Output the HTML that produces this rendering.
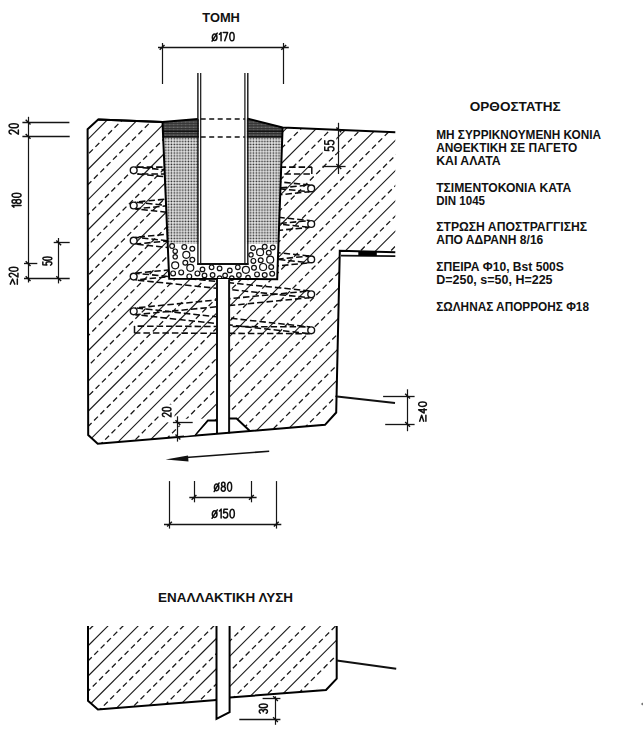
<!DOCTYPE html>
<html><head><meta charset="utf-8"><style>
html,body{margin:0;padding:0;background:#fff;}
svg{display:block;}
</style></head><body>
<svg width="643" height="730" viewBox="0 0 643 730">
<rect width="643" height="730" fill="#fff"/>
<defs>
<clipPath id="cl"><polygon points="87.6,129.2 98.2,119.6 162.5,122.0 169.2,279.0 217.0,279.0 217.0,420.5 208.0,420.5 194.5,435.5 97.7,443.8 88.2,435.0"/></clipPath>
<clipPath id="cr"><polygon points="282.6,127.5 395.3,132.2 395.3,252.3 339.8,250.7 336.2,408.0 320.5,425.3 249.9,431.0 236.6,418.6 229.0,418.6 229.0,279.2 277.2,279.2"/></clipPath>
<clipPath id="ll"><polygon points="88.0,626.0 216.5,626.0 216.5,700.0 97.9,709.4 88.0,700.7"/></clipPath>
<clipPath id="lr"><polygon points="229.6,626.0 336.7,626.0 336.7,665.0 315.0,691.0 229.6,697.5"/></clipPath>
<pattern id="dots" x="0.3" y="0.6" width="2.83" height="2.85" patternUnits="userSpaceOnUse"><rect x="0.5" y="0.5" width="1.75" height="1.75" fill="#2a2a2a"/></pattern>
<pattern id="grout" x="0" y="0.5" width="4" height="2.6" patternUnits="userSpaceOnUse"><rect width="4" height="2.6" fill="#555"/><rect y="0" width="4" height="1.2" fill="#2e2e2e"/><rect x="1" y="1.6" width="1.2" height="0.8" fill="#777"/></pattern>
</defs>
<g clip-path="url(#cl)">
<line x1="-279.3" y1="446.0" x2="51.7" y2="115.0" stroke="#1a1a1a" stroke-width="1.1" stroke-linecap="butt"/>
<line x1="-264.2" y1="446.0" x2="66.8" y2="115.0" stroke="#1a1a1a" stroke-width="1.3" stroke-dasharray="5.5 3.5" stroke-linecap="butt"/>
<line x1="-249.1" y1="446.0" x2="81.9" y2="115.0" stroke="#1a1a1a" stroke-width="1.1" stroke-linecap="butt"/>
<line x1="-233.9" y1="446.0" x2="97.1" y2="115.0" stroke="#1a1a1a" stroke-width="1.3" stroke-dasharray="5.5 3.5" stroke-linecap="butt"/>
<line x1="-218.8" y1="446.0" x2="112.2" y2="115.0" stroke="#1a1a1a" stroke-width="1.1" stroke-linecap="butt"/>
<line x1="-203.7" y1="446.0" x2="127.3" y2="115.0" stroke="#1a1a1a" stroke-width="1.3" stroke-dasharray="5.5 3.5" stroke-linecap="butt"/>
<line x1="-188.6" y1="446.0" x2="142.4" y2="115.0" stroke="#1a1a1a" stroke-width="1.1" stroke-linecap="butt"/>
<line x1="-173.4" y1="446.0" x2="157.6" y2="115.0" stroke="#1a1a1a" stroke-width="1.3" stroke-dasharray="5.5 3.5" stroke-linecap="butt"/>
<line x1="-158.3" y1="446.0" x2="172.7" y2="115.0" stroke="#1a1a1a" stroke-width="1.1" stroke-linecap="butt"/>
<line x1="-143.2" y1="446.0" x2="187.8" y2="115.0" stroke="#1a1a1a" stroke-width="1.3" stroke-dasharray="5.5 3.5" stroke-linecap="butt"/>
<line x1="-128.1" y1="446.0" x2="202.9" y2="115.0" stroke="#1a1a1a" stroke-width="1.1" stroke-linecap="butt"/>
<line x1="-112.9" y1="446.0" x2="218.1" y2="115.0" stroke="#1a1a1a" stroke-width="1.3" stroke-dasharray="5.5 3.5" stroke-linecap="butt"/>
<line x1="-97.8" y1="446.0" x2="233.2" y2="115.0" stroke="#1a1a1a" stroke-width="1.1" stroke-linecap="butt"/>
<line x1="-82.7" y1="446.0" x2="248.3" y2="115.0" stroke="#1a1a1a" stroke-width="1.3" stroke-dasharray="5.5 3.5" stroke-linecap="butt"/>
<line x1="-67.6" y1="446.0" x2="263.4" y2="115.0" stroke="#1a1a1a" stroke-width="1.1" stroke-linecap="butt"/>
<line x1="-52.4" y1="446.0" x2="278.6" y2="115.0" stroke="#1a1a1a" stroke-width="1.3" stroke-dasharray="5.5 3.5" stroke-linecap="butt"/>
<line x1="-37.3" y1="446.0" x2="293.7" y2="115.0" stroke="#1a1a1a" stroke-width="1.1" stroke-linecap="butt"/>
<line x1="-22.2" y1="446.0" x2="308.8" y2="115.0" stroke="#1a1a1a" stroke-width="1.3" stroke-dasharray="5.5 3.5" stroke-linecap="butt"/>
<line x1="-7.1" y1="446.0" x2="323.9" y2="115.0" stroke="#1a1a1a" stroke-width="1.1" stroke-linecap="butt"/>
<line x1="8.1" y1="446.0" x2="339.1" y2="115.0" stroke="#1a1a1a" stroke-width="1.3" stroke-dasharray="5.5 3.5" stroke-linecap="butt"/>
<line x1="23.2" y1="446.0" x2="354.2" y2="115.0" stroke="#1a1a1a" stroke-width="1.1" stroke-linecap="butt"/>
<line x1="38.3" y1="446.0" x2="369.3" y2="115.0" stroke="#1a1a1a" stroke-width="1.3" stroke-dasharray="5.5 3.5" stroke-linecap="butt"/>
<line x1="53.4" y1="446.0" x2="384.4" y2="115.0" stroke="#1a1a1a" stroke-width="1.1" stroke-linecap="butt"/>
<line x1="68.6" y1="446.0" x2="399.6" y2="115.0" stroke="#1a1a1a" stroke-width="1.3" stroke-dasharray="5.5 3.5" stroke-linecap="butt"/>
<line x1="83.7" y1="446.0" x2="414.7" y2="115.0" stroke="#1a1a1a" stroke-width="1.1" stroke-linecap="butt"/>
<line x1="98.8" y1="446.0" x2="429.8" y2="115.0" stroke="#1a1a1a" stroke-width="1.3" stroke-dasharray="5.5 3.5" stroke-linecap="butt"/>
<line x1="114.0" y1="446.0" x2="445.0" y2="115.0" stroke="#1a1a1a" stroke-width="1.1" stroke-linecap="butt"/>
<line x1="129.1" y1="446.0" x2="460.1" y2="115.0" stroke="#1a1a1a" stroke-width="1.3" stroke-dasharray="5.5 3.5" stroke-linecap="butt"/>
<line x1="144.2" y1="446.0" x2="475.2" y2="115.0" stroke="#1a1a1a" stroke-width="1.1" stroke-linecap="butt"/>
<line x1="159.3" y1="446.0" x2="490.3" y2="115.0" stroke="#1a1a1a" stroke-width="1.3" stroke-dasharray="5.5 3.5" stroke-linecap="butt"/>
<line x1="174.5" y1="446.0" x2="505.5" y2="115.0" stroke="#1a1a1a" stroke-width="1.1" stroke-linecap="butt"/>
<line x1="189.6" y1="446.0" x2="520.6" y2="115.0" stroke="#1a1a1a" stroke-width="1.3" stroke-dasharray="5.5 3.5" stroke-linecap="butt"/>
<line x1="204.7" y1="446.0" x2="535.7" y2="115.0" stroke="#1a1a1a" stroke-width="1.1" stroke-linecap="butt"/>
<line x1="219.8" y1="446.0" x2="550.8" y2="115.0" stroke="#1a1a1a" stroke-width="1.3" stroke-dasharray="5.5 3.5" stroke-linecap="butt"/>
<line x1="235.0" y1="446.0" x2="566.0" y2="115.0" stroke="#1a1a1a" stroke-width="1.1" stroke-linecap="butt"/>
<line x1="250.1" y1="446.0" x2="581.1" y2="115.0" stroke="#1a1a1a" stroke-width="1.3" stroke-dasharray="5.5 3.5" stroke-linecap="butt"/>
<line x1="265.2" y1="446.0" x2="596.2" y2="115.0" stroke="#1a1a1a" stroke-width="1.1" stroke-linecap="butt"/>
<line x1="280.3" y1="446.0" x2="611.3" y2="115.0" stroke="#1a1a1a" stroke-width="1.3" stroke-dasharray="5.5 3.5" stroke-linecap="butt"/>
</g>
<g clip-path="url(#cr)">
<line x1="-141.3" y1="435.0" x2="168.7" y2="125.0" stroke="#1a1a1a" stroke-width="1.1" stroke-linecap="butt"/>
<line x1="-126.2" y1="435.0" x2="183.8" y2="125.0" stroke="#1a1a1a" stroke-width="1.3" stroke-dasharray="5.5 3.5" stroke-linecap="butt"/>
<line x1="-111.1" y1="435.0" x2="198.9" y2="125.0" stroke="#1a1a1a" stroke-width="1.1" stroke-linecap="butt"/>
<line x1="-95.9" y1="435.0" x2="214.1" y2="125.0" stroke="#1a1a1a" stroke-width="1.3" stroke-dasharray="5.5 3.5" stroke-linecap="butt"/>
<line x1="-80.8" y1="435.0" x2="229.2" y2="125.0" stroke="#1a1a1a" stroke-width="1.1" stroke-linecap="butt"/>
<line x1="-65.7" y1="435.0" x2="244.3" y2="125.0" stroke="#1a1a1a" stroke-width="1.3" stroke-dasharray="5.5 3.5" stroke-linecap="butt"/>
<line x1="-50.6" y1="435.0" x2="259.4" y2="125.0" stroke="#1a1a1a" stroke-width="1.1" stroke-linecap="butt"/>
<line x1="-35.4" y1="435.0" x2="274.6" y2="125.0" stroke="#1a1a1a" stroke-width="1.3" stroke-dasharray="5.5 3.5" stroke-linecap="butt"/>
<line x1="-20.3" y1="435.0" x2="289.7" y2="125.0" stroke="#1a1a1a" stroke-width="1.1" stroke-linecap="butt"/>
<line x1="-5.2" y1="435.0" x2="304.8" y2="125.0" stroke="#1a1a1a" stroke-width="1.3" stroke-dasharray="5.5 3.5" stroke-linecap="butt"/>
<line x1="9.9" y1="435.0" x2="319.9" y2="125.0" stroke="#1a1a1a" stroke-width="1.1" stroke-linecap="butt"/>
<line x1="25.1" y1="435.0" x2="335.1" y2="125.0" stroke="#1a1a1a" stroke-width="1.3" stroke-dasharray="5.5 3.5" stroke-linecap="butt"/>
<line x1="40.2" y1="435.0" x2="350.2" y2="125.0" stroke="#1a1a1a" stroke-width="1.1" stroke-linecap="butt"/>
<line x1="55.3" y1="435.0" x2="365.3" y2="125.0" stroke="#1a1a1a" stroke-width="1.3" stroke-dasharray="5.5 3.5" stroke-linecap="butt"/>
<line x1="70.4" y1="435.0" x2="380.4" y2="125.0" stroke="#1a1a1a" stroke-width="1.1" stroke-linecap="butt"/>
<line x1="85.6" y1="435.0" x2="395.6" y2="125.0" stroke="#1a1a1a" stroke-width="1.3" stroke-dasharray="5.5 3.5" stroke-linecap="butt"/>
<line x1="100.7" y1="435.0" x2="410.7" y2="125.0" stroke="#1a1a1a" stroke-width="1.1" stroke-linecap="butt"/>
<line x1="115.8" y1="435.0" x2="425.8" y2="125.0" stroke="#1a1a1a" stroke-width="1.3" stroke-dasharray="5.5 3.5" stroke-linecap="butt"/>
<line x1="131.0" y1="435.0" x2="441.0" y2="125.0" stroke="#1a1a1a" stroke-width="1.1" stroke-linecap="butt"/>
<line x1="146.1" y1="435.0" x2="456.1" y2="125.0" stroke="#1a1a1a" stroke-width="1.3" stroke-dasharray="5.5 3.5" stroke-linecap="butt"/>
<line x1="161.2" y1="435.0" x2="471.2" y2="125.0" stroke="#1a1a1a" stroke-width="1.1" stroke-linecap="butt"/>
<line x1="176.3" y1="435.0" x2="486.3" y2="125.0" stroke="#1a1a1a" stroke-width="1.3" stroke-dasharray="5.5 3.5" stroke-linecap="butt"/>
<line x1="191.5" y1="435.0" x2="501.5" y2="125.0" stroke="#1a1a1a" stroke-width="1.1" stroke-linecap="butt"/>
<line x1="206.6" y1="435.0" x2="516.6" y2="125.0" stroke="#1a1a1a" stroke-width="1.3" stroke-dasharray="5.5 3.5" stroke-linecap="butt"/>
<line x1="221.7" y1="435.0" x2="531.7" y2="125.0" stroke="#1a1a1a" stroke-width="1.1" stroke-linecap="butt"/>
<line x1="236.8" y1="435.0" x2="546.8" y2="125.0" stroke="#1a1a1a" stroke-width="1.3" stroke-dasharray="5.5 3.5" stroke-linecap="butt"/>
<line x1="252.0" y1="435.0" x2="562.0" y2="125.0" stroke="#1a1a1a" stroke-width="1.1" stroke-linecap="butt"/>
<line x1="267.1" y1="435.0" x2="577.1" y2="125.0" stroke="#1a1a1a" stroke-width="1.3" stroke-dasharray="5.5 3.5" stroke-linecap="butt"/>
<line x1="282.2" y1="435.0" x2="592.2" y2="125.0" stroke="#1a1a1a" stroke-width="1.1" stroke-linecap="butt"/>
<line x1="297.3" y1="435.0" x2="607.3" y2="125.0" stroke="#1a1a1a" stroke-width="1.3" stroke-dasharray="5.5 3.5" stroke-linecap="butt"/>
<line x1="312.5" y1="435.0" x2="622.5" y2="125.0" stroke="#1a1a1a" stroke-width="1.1" stroke-linecap="butt"/>
<line x1="327.6" y1="435.0" x2="637.6" y2="125.0" stroke="#1a1a1a" stroke-width="1.3" stroke-dasharray="5.5 3.5" stroke-linecap="butt"/>
<line x1="342.7" y1="435.0" x2="652.7" y2="125.0" stroke="#1a1a1a" stroke-width="1.1" stroke-linecap="butt"/>
<line x1="357.8" y1="435.0" x2="667.8" y2="125.0" stroke="#1a1a1a" stroke-width="1.3" stroke-dasharray="5.5 3.5" stroke-linecap="butt"/>
<line x1="373.0" y1="435.0" x2="683.0" y2="125.0" stroke="#1a1a1a" stroke-width="1.1" stroke-linecap="butt"/>
<line x1="388.1" y1="435.0" x2="698.1" y2="125.0" stroke="#1a1a1a" stroke-width="1.3" stroke-dasharray="5.5 3.5" stroke-linecap="butt"/>
<line x1="403.2" y1="435.0" x2="713.2" y2="125.0" stroke="#1a1a1a" stroke-width="1.1" stroke-linecap="butt"/>
<line x1="418.3" y1="435.0" x2="728.3" y2="125.0" stroke="#1a1a1a" stroke-width="1.3" stroke-dasharray="5.5 3.5" stroke-linecap="butt"/>
<line x1="433.5" y1="435.0" x2="743.5" y2="125.0" stroke="#1a1a1a" stroke-width="1.1" stroke-linecap="butt"/>
<line x1="448.6" y1="435.0" x2="758.6" y2="125.0" stroke="#1a1a1a" stroke-width="1.3" stroke-dasharray="5.5 3.5" stroke-linecap="butt"/>
</g>
<g clip-path="url(#ll)">
<line x1="-38.6" y1="712.0" x2="53.4" y2="620.0" stroke="#1a1a1a" stroke-width="1.1" stroke-linecap="butt"/>
<line x1="-23.5" y1="712.0" x2="68.5" y2="620.0" stroke="#1a1a1a" stroke-width="1.3" stroke-dasharray="5.5 3.5" stroke-linecap="butt"/>
<line x1="-8.4" y1="712.0" x2="83.6" y2="620.0" stroke="#1a1a1a" stroke-width="1.1" stroke-linecap="butt"/>
<line x1="6.8" y1="712.0" x2="98.8" y2="620.0" stroke="#1a1a1a" stroke-width="1.3" stroke-dasharray="5.5 3.5" stroke-linecap="butt"/>
<line x1="21.9" y1="712.0" x2="113.9" y2="620.0" stroke="#1a1a1a" stroke-width="1.1" stroke-linecap="butt"/>
<line x1="37.0" y1="712.0" x2="129.0" y2="620.0" stroke="#1a1a1a" stroke-width="1.3" stroke-dasharray="5.5 3.5" stroke-linecap="butt"/>
<line x1="52.1" y1="712.0" x2="144.1" y2="620.0" stroke="#1a1a1a" stroke-width="1.1" stroke-linecap="butt"/>
<line x1="67.3" y1="712.0" x2="159.3" y2="620.0" stroke="#1a1a1a" stroke-width="1.3" stroke-dasharray="5.5 3.5" stroke-linecap="butt"/>
<line x1="82.4" y1="712.0" x2="174.4" y2="620.0" stroke="#1a1a1a" stroke-width="1.1" stroke-linecap="butt"/>
<line x1="97.5" y1="712.0" x2="189.5" y2="620.0" stroke="#1a1a1a" stroke-width="1.3" stroke-dasharray="5.5 3.5" stroke-linecap="butt"/>
<line x1="112.6" y1="712.0" x2="204.6" y2="620.0" stroke="#1a1a1a" stroke-width="1.1" stroke-linecap="butt"/>
<line x1="127.8" y1="712.0" x2="219.8" y2="620.0" stroke="#1a1a1a" stroke-width="1.3" stroke-dasharray="5.5 3.5" stroke-linecap="butt"/>
<line x1="142.9" y1="712.0" x2="234.9" y2="620.0" stroke="#1a1a1a" stroke-width="1.1" stroke-linecap="butt"/>
<line x1="158.0" y1="712.0" x2="250.0" y2="620.0" stroke="#1a1a1a" stroke-width="1.3" stroke-dasharray="5.5 3.5" stroke-linecap="butt"/>
<line x1="173.1" y1="712.0" x2="265.1" y2="620.0" stroke="#1a1a1a" stroke-width="1.1" stroke-linecap="butt"/>
<line x1="188.3" y1="712.0" x2="280.3" y2="620.0" stroke="#1a1a1a" stroke-width="1.3" stroke-dasharray="5.5 3.5" stroke-linecap="butt"/>
<line x1="203.4" y1="712.0" x2="295.4" y2="620.0" stroke="#1a1a1a" stroke-width="1.1" stroke-linecap="butt"/>
<line x1="218.5" y1="712.0" x2="310.5" y2="620.0" stroke="#1a1a1a" stroke-width="1.3" stroke-dasharray="5.5 3.5" stroke-linecap="butt"/>
<line x1="233.6" y1="712.0" x2="325.6" y2="620.0" stroke="#1a1a1a" stroke-width="1.1" stroke-linecap="butt"/>
<line x1="248.8" y1="712.0" x2="340.8" y2="620.0" stroke="#1a1a1a" stroke-width="1.3" stroke-dasharray="5.5 3.5" stroke-linecap="butt"/>
<line x1="263.9" y1="712.0" x2="355.9" y2="620.0" stroke="#1a1a1a" stroke-width="1.1" stroke-linecap="butt"/>
<line x1="279.0" y1="712.0" x2="371.0" y2="620.0" stroke="#1a1a1a" stroke-width="1.3" stroke-dasharray="5.5 3.5" stroke-linecap="butt"/>
</g>
<g clip-path="url(#lr)">
<line x1="95.2" y1="700.0" x2="175.2" y2="620.0" stroke="#1a1a1a" stroke-width="1.1" stroke-linecap="butt"/>
<line x1="110.3" y1="700.0" x2="190.3" y2="620.0" stroke="#1a1a1a" stroke-width="1.3" stroke-dasharray="5.5 3.5" stroke-linecap="butt"/>
<line x1="125.5" y1="700.0" x2="205.5" y2="620.0" stroke="#1a1a1a" stroke-width="1.1" stroke-linecap="butt"/>
<line x1="140.6" y1="700.0" x2="220.6" y2="620.0" stroke="#1a1a1a" stroke-width="1.3" stroke-dasharray="5.5 3.5" stroke-linecap="butt"/>
<line x1="155.7" y1="700.0" x2="235.7" y2="620.0" stroke="#1a1a1a" stroke-width="1.1" stroke-linecap="butt"/>
<line x1="170.8" y1="700.0" x2="250.8" y2="620.0" stroke="#1a1a1a" stroke-width="1.3" stroke-dasharray="5.5 3.5" stroke-linecap="butt"/>
<line x1="186.0" y1="700.0" x2="266.0" y2="620.0" stroke="#1a1a1a" stroke-width="1.1" stroke-linecap="butt"/>
<line x1="201.1" y1="700.0" x2="281.1" y2="620.0" stroke="#1a1a1a" stroke-width="1.3" stroke-dasharray="5.5 3.5" stroke-linecap="butt"/>
<line x1="216.2" y1="700.0" x2="296.2" y2="620.0" stroke="#1a1a1a" stroke-width="1.1" stroke-linecap="butt"/>
<line x1="231.3" y1="700.0" x2="311.3" y2="620.0" stroke="#1a1a1a" stroke-width="1.3" stroke-dasharray="5.5 3.5" stroke-linecap="butt"/>
<line x1="246.5" y1="700.0" x2="326.5" y2="620.0" stroke="#1a1a1a" stroke-width="1.1" stroke-linecap="butt"/>
<line x1="261.6" y1="700.0" x2="341.6" y2="620.0" stroke="#1a1a1a" stroke-width="1.3" stroke-dasharray="5.5 3.5" stroke-linecap="butt"/>
<line x1="276.7" y1="700.0" x2="356.7" y2="620.0" stroke="#1a1a1a" stroke-width="1.1" stroke-linecap="butt"/>
<line x1="291.8" y1="700.0" x2="371.8" y2="620.0" stroke="#1a1a1a" stroke-width="1.3" stroke-dasharray="5.5 3.5" stroke-linecap="butt"/>
<line x1="307.0" y1="700.0" x2="387.0" y2="620.0" stroke="#1a1a1a" stroke-width="1.1" stroke-linecap="butt"/>
<line x1="322.1" y1="700.0" x2="402.1" y2="620.0" stroke="#1a1a1a" stroke-width="1.3" stroke-dasharray="5.5 3.5" stroke-linecap="butt"/>
<line x1="337.2" y1="700.0" x2="417.2" y2="620.0" stroke="#1a1a1a" stroke-width="1.1" stroke-linecap="butt"/>
<line x1="352.3" y1="700.0" x2="432.3" y2="620.0" stroke="#1a1a1a" stroke-width="1.3" stroke-dasharray="5.5 3.5" stroke-linecap="butt"/>
<line x1="367.5" y1="700.0" x2="447.5" y2="620.0" stroke="#1a1a1a" stroke-width="1.1" stroke-linecap="butt"/>
<line x1="382.6" y1="700.0" x2="462.6" y2="620.0" stroke="#1a1a1a" stroke-width="1.3" stroke-dasharray="5.5 3.5" stroke-linecap="butt"/>
<line x1="397.7" y1="700.0" x2="477.7" y2="620.0" stroke="#1a1a1a" stroke-width="1.1" stroke-linecap="butt"/>
<line x1="412.8" y1="700.0" x2="492.8" y2="620.0" stroke="#1a1a1a" stroke-width="1.3" stroke-dasharray="5.5 3.5" stroke-linecap="butt"/>
</g>
<line x1="137.10" y1="167.10" x2="311.80" y2="167.10" stroke="#0a0a0a" stroke-width="1.55" stroke-dasharray="6.5 3" stroke-dashoffset="0.00"/>
<line x1="137.10" y1="173.90" x2="311.80" y2="173.90" stroke="#0a0a0a" stroke-width="1.55" stroke-dasharray="6.5 3" stroke-dashoffset="4.70"/>
<line x1="311.8" y1="167.1" x2="311.8" y2="174.0" stroke="#111" stroke-width="1.5" stroke-linecap="butt"/>
<line x1="135.40" y1="166.90" x2="309.50" y2="185.00" stroke="#0a0a0a" stroke-width="1.55" stroke-dasharray="6.5 3" stroke-dashoffset="2.30"/>
<line x1="135.40" y1="173.70" x2="309.50" y2="191.80" stroke="#0a0a0a" stroke-width="1.55" stroke-dasharray="6.5 3" stroke-dashoffset="7.10"/>
<line x1="135.40" y1="202.10" x2="309.50" y2="185.00" stroke="#0a0a0a" stroke-width="1.55" stroke-dasharray="6.5 3" stroke-dashoffset="5.90"/>
<line x1="135.40" y1="208.90" x2="309.50" y2="191.80" stroke="#0a0a0a" stroke-width="1.55" stroke-dasharray="6.5 3" stroke-dashoffset="1.20"/>
<line x1="135.40" y1="202.10" x2="309.50" y2="220.60" stroke="#0a0a0a" stroke-width="1.55" stroke-dasharray="6.5 3" stroke-dashoffset="8.30"/>
<line x1="135.40" y1="208.90" x2="309.50" y2="227.40" stroke="#0a0a0a" stroke-width="1.55" stroke-dasharray="6.5 3" stroke-dashoffset="3.50"/>
<line x1="135.40" y1="237.30" x2="309.50" y2="220.60" stroke="#0a0a0a" stroke-width="1.55" stroke-dasharray="6.5 3" stroke-dashoffset="6.40"/>
<line x1="135.40" y1="244.10" x2="309.50" y2="227.40" stroke="#0a0a0a" stroke-width="1.55" stroke-dasharray="6.5 3" stroke-dashoffset="0.60"/>
<line x1="135.40" y1="237.30" x2="309.50" y2="256.00" stroke="#0a0a0a" stroke-width="1.55" stroke-dasharray="6.5 3" stroke-dashoffset="2.90"/>
<line x1="135.40" y1="244.10" x2="309.50" y2="262.80" stroke="#0a0a0a" stroke-width="1.55" stroke-dasharray="6.5 3" stroke-dashoffset="7.70"/>
<line x1="135.40" y1="273.20" x2="309.50" y2="256.00" stroke="#0a0a0a" stroke-width="1.55" stroke-dasharray="6.5 3" stroke-dashoffset="0.00"/>
<line x1="135.40" y1="280.00" x2="309.50" y2="262.80" stroke="#0a0a0a" stroke-width="1.55" stroke-dasharray="6.5 3" stroke-dashoffset="4.70"/>
<line x1="135.40" y1="273.20" x2="309.50" y2="290.90" stroke="#0a0a0a" stroke-width="1.55" stroke-dasharray="6.5 3" stroke-dashoffset="2.30"/>
<line x1="135.40" y1="280.00" x2="309.50" y2="297.70" stroke="#0a0a0a" stroke-width="1.55" stroke-dasharray="6.5 3" stroke-dashoffset="7.10"/>
<line x1="135.40" y1="307.90" x2="309.50" y2="290.90" stroke="#0a0a0a" stroke-width="1.55" stroke-dasharray="6.5 3" stroke-dashoffset="5.90"/>
<line x1="135.40" y1="314.70" x2="309.50" y2="297.70" stroke="#0a0a0a" stroke-width="1.55" stroke-dasharray="6.5 3" stroke-dashoffset="1.20"/>
<line x1="135.40" y1="307.90" x2="309.50" y2="326.90" stroke="#0a0a0a" stroke-width="1.55" stroke-dasharray="6.5 3" stroke-dashoffset="8.30"/>
<line x1="135.40" y1="314.70" x2="309.50" y2="333.70" stroke="#0a0a0a" stroke-width="1.55" stroke-dasharray="6.5 3" stroke-dashoffset="3.50"/>
<line x1="134.50" y1="326.10" x2="310.18" y2="326.90" stroke="#0a0a0a" stroke-width="1.55" stroke-dasharray="6.5 3" stroke-dashoffset="6.40"/>
<line x1="134.50" y1="332.90" x2="310.18" y2="333.70" stroke="#0a0a0a" stroke-width="1.55" stroke-dasharray="6.5 3" stroke-dashoffset="0.60"/>
<line x1="134.5" y1="325.9" x2="134.5" y2="333.2" stroke="#111" stroke-width="1.5" stroke-linecap="butt"/>
<circle cx="133.7" cy="170.3" r="3.4" fill="#fff" stroke="#111" stroke-width="1.4"/>
<circle cx="133.7" cy="205.5" r="3.4" fill="#fff" stroke="#111" stroke-width="1.4"/>
<circle cx="133.7" cy="240.7" r="3.4" fill="#fff" stroke="#111" stroke-width="1.4"/>
<circle cx="133.7" cy="276.6" r="3.4" fill="#fff" stroke="#111" stroke-width="1.4"/>
<circle cx="133.7" cy="311.3" r="3.4" fill="#fff" stroke="#111" stroke-width="1.4"/>
<circle cx="311.2" cy="188.4" r="3.4" fill="#fff" stroke="#111" stroke-width="1.4"/>
<circle cx="311.2" cy="224.0" r="3.4" fill="#fff" stroke="#111" stroke-width="1.4"/>
<circle cx="311.2" cy="259.4" r="3.4" fill="#fff" stroke="#111" stroke-width="1.4"/>
<circle cx="311.2" cy="294.3" r="3.4" fill="#fff" stroke="#111" stroke-width="1.4"/>
<circle cx="311.2" cy="330.3" r="3.4" fill="#fff" stroke="#111" stroke-width="1.4"/>
<polygon points="162.5,122.0 197.9,119.0 247.8,118.6 282.6,127.5 277.2,279.2 169.2,278.8" fill="#fff"/>
<clipPath id="pk"><polygon points="162.5,122.0 197.9,119.0 247.8,118.6 282.6,127.5 277.2,279.2 169.2,278.8"/></clipPath>
<g clip-path="url(#pk)">
<rect x="160" y="137" width="125" height="106.7" fill="url(#dots)"/>
<rect x="160" y="110" width="125" height="27" fill="url(#grout)"/>
</g>
<line x1="162.5" y1="131.2" x2="282.0" y2="131.2" stroke="#111" stroke-width="1.4" stroke-linecap="butt"/>
<line x1="162.5" y1="136.9" x2="282.6" y2="136.9" stroke="#111" stroke-width="1.6" stroke-linecap="butt"/>
<circle cx="172.1" cy="246.1" r="2.4" fill="none" stroke="#111" stroke-width="1.2"/>
<circle cx="184.3" cy="247.1" r="2.4" fill="none" stroke="#111" stroke-width="1.2"/>
<circle cx="192.3" cy="248.7" r="2.4" fill="none" stroke="#111" stroke-width="1.2"/>
<circle cx="175.2" cy="251.2" r="2.2" fill="none" stroke="#111" stroke-width="1.2"/>
<circle cx="186.3" cy="254.8" r="3.5" fill="none" stroke="#111" stroke-width="1.2"/>
<circle cx="175.2" cy="256.8" r="2.2" fill="none" stroke="#111" stroke-width="1.2"/>
<circle cx="192.3" cy="259.7" r="2.4" fill="none" stroke="#111" stroke-width="1.2"/>
<circle cx="185.3" cy="262.7" r="2.4" fill="none" stroke="#111" stroke-width="1.2"/>
<circle cx="175.2" cy="265.3" r="3.5" fill="none" stroke="#111" stroke-width="1.2"/>
<circle cx="190.3" cy="267.8" r="3.5" fill="none" stroke="#111" stroke-width="1.2"/>
<circle cx="173.1" cy="273.4" r="2.4" fill="none" stroke="#111" stroke-width="1.2"/>
<circle cx="181.2" cy="272.4" r="2.4" fill="none" stroke="#111" stroke-width="1.2"/>
<circle cx="189.3" cy="276.4" r="2.4" fill="none" stroke="#111" stroke-width="1.2"/>
<circle cx="197.4" cy="273.4" r="2.4" fill="none" stroke="#111" stroke-width="1.2"/>
<circle cx="202.5" cy="269.4" r="2.3" fill="none" stroke="#111" stroke-width="1.2"/>
<circle cx="204.5" cy="275.4" r="2.3" fill="none" stroke="#111" stroke-width="1.2"/>
<circle cx="211.6" cy="267.3" r="2.3" fill="none" stroke="#111" stroke-width="1.2"/>
<circle cx="212.6" cy="275" r="2.3" fill="none" stroke="#111" stroke-width="1.2"/>
<circle cx="219.6" cy="268.4" r="2.3" fill="none" stroke="#111" stroke-width="1.2"/>
<circle cx="219.6" cy="278.1" r="2.2" fill="none" stroke="#111" stroke-width="1.2"/>
<circle cx="225.1" cy="275.4" r="2.3" fill="none" stroke="#111" stroke-width="1.2"/>
<circle cx="229.8" cy="270.4" r="2.3" fill="none" stroke="#111" stroke-width="1.2"/>
<circle cx="231.8" cy="278.1" r="2.2" fill="none" stroke="#111" stroke-width="1.2"/>
<circle cx="237.8" cy="267.3" r="2.3" fill="none" stroke="#111" stroke-width="1.2"/>
<circle cx="238.9" cy="275" r="2.3" fill="none" stroke="#111" stroke-width="1.2"/>
<circle cx="245.9" cy="269.8" r="3.5" fill="none" stroke="#111" stroke-width="1.2"/>
<circle cx="248" cy="277.5" r="2.2" fill="none" stroke="#111" stroke-width="1.2"/>
<circle cx="253" cy="248.1" r="2.4" fill="none" stroke="#111" stroke-width="1.2"/>
<circle cx="264.7" cy="246.7" r="2.4" fill="none" stroke="#111" stroke-width="1.2"/>
<circle cx="272.8" cy="247.5" r="2.4" fill="none" stroke="#111" stroke-width="1.2"/>
<circle cx="260.1" cy="252.2" r="3.5" fill="none" stroke="#111" stroke-width="1.2"/>
<circle cx="268.8" cy="252.8" r="2.4" fill="none" stroke="#111" stroke-width="1.2"/>
<circle cx="251" cy="254.8" r="2.2" fill="none" stroke="#111" stroke-width="1.2"/>
<circle cx="270.2" cy="259.7" r="3.5" fill="none" stroke="#111" stroke-width="1.2"/>
<circle cx="260.7" cy="260.3" r="2.4" fill="none" stroke="#111" stroke-width="1.2"/>
<circle cx="253.4" cy="260.9" r="2.4" fill="none" stroke="#111" stroke-width="1.2"/>
<circle cx="254" cy="267.8" r="2.4" fill="none" stroke="#111" stroke-width="1.2"/>
<circle cx="263.1" cy="267" r="3.5" fill="none" stroke="#111" stroke-width="1.2"/>
<circle cx="271.2" cy="267" r="2.4" fill="none" stroke="#111" stroke-width="1.2"/>
<circle cx="257" cy="274.4" r="2.4" fill="none" stroke="#111" stroke-width="1.2"/>
<circle cx="264.7" cy="275" r="2.4" fill="none" stroke="#111" stroke-width="1.2"/>
<circle cx="272.2" cy="273.8" r="2.4" fill="none" stroke="#111" stroke-width="1.2"/>
<polyline points="162.5,122.0 169.2,278.8 277.2,279.2 282.6,127.5" fill="none" stroke="#000" stroke-width="2" stroke-linejoin="miter"/>
<polyline points="98.2,119.6 162.5,122.0 197.9,119.0" fill="none" stroke="#000" stroke-width="2" stroke-linejoin="miter"/>
<polyline points="247.8,118.6 282.6,127.5 395.3,132.2" fill="none" stroke="#000" stroke-width="2" stroke-linejoin="miter"/>
<rect x="198.9" y="72" width="47.9" height="191.6" fill="#fff"/>
<line x1="197.9" y1="73.0" x2="197.9" y2="265.0" stroke="#111" stroke-width="1.4" stroke-linecap="butt"/>
<line x1="200.7" y1="73.0" x2="200.7" y2="263.5" stroke="#111" stroke-width="1.2" stroke-linecap="butt"/>
<line x1="244.9" y1="73.0" x2="244.9" y2="263.5" stroke="#111" stroke-width="1.2" stroke-linecap="butt"/>
<line x1="247.8" y1="73.0" x2="247.8" y2="265.0" stroke="#111" stroke-width="1.4" stroke-linecap="butt"/>
<line x1="197.2" y1="264.0" x2="248.5" y2="264.0" stroke="#111" stroke-width="2.2" stroke-linecap="butt"/>
<line x1="200.7" y1="119.0" x2="244.9" y2="119.0" stroke="#111" stroke-width="1.5" stroke-dasharray="5 3.5" stroke-linecap="butt"/>
<line x1="200.7" y1="137.0" x2="244.9" y2="137.0" stroke="#111" stroke-width="1.5" stroke-dasharray="5 3.5" stroke-linecap="butt"/>
<rect x="217" y="279" width="12.1" height="154.5" fill="#fff"/>
<line x1="217.0" y1="279.0" x2="217.0" y2="434.0" stroke="#111" stroke-width="2" stroke-linecap="butt"/>
<line x1="229.1" y1="279.2" x2="229.1" y2="433.4" stroke="#111" stroke-width="2" stroke-linecap="butt"/>
<polyline points="162.5,122.0 98.2,119.6 87.6,129.2 88.2,435.0 97.7,443.8 325.0,424.8 336.2,412.5 339.8,250.7 395.3,252.3" fill="none" stroke="#000" stroke-width="2" stroke-linejoin="miter"/>
<line x1="341.0" y1="255.6" x2="395.3" y2="256.1" stroke="#111" stroke-width="1.6" stroke-linecap="butt"/>
<polygon points="358.3,251.3 376.8,251.8 376.8,256 358.3,255.8" fill="#000"/>
<polyline points="194.5,435.5 208.0,420.4 217.0,420.4" fill="none" stroke="#000" stroke-width="2" stroke-linejoin="miter"/>
<polyline points="229.0,418.6 236.6,418.6 249.9,431.0" fill="none" stroke="#000" stroke-width="2" stroke-linejoin="miter"/>
<line x1="337.0" y1="396.4" x2="395.0" y2="402.9" stroke="#111" stroke-width="2" stroke-linecap="butt"/>
<polyline points="88.0,626.0 88.0,700.7 97.9,709.4 216.5,700.0" fill="none" stroke="#000" stroke-width="2" stroke-linejoin="miter"/>
<polyline points="336.7,626.0 336.7,678.6 326.0,690.0 229.6,697.5" fill="none" stroke="#000" stroke-width="2" stroke-linejoin="miter"/>
<polygon points="216.5,626 229.6,626 229.6,711.5 216.5,718.5" fill="#fff"/>
<polyline points="216.5,626.0 216.5,718.8 229.6,712.2 229.6,626.0" fill="none" stroke="#000" stroke-width="2" stroke-linejoin="miter"/>
<line x1="336.7" y1="660.6" x2="396.2" y2="668.8" stroke="#111" stroke-width="2" stroke-linecap="butt"/>
<circle cx="642.6" cy="704" r="1.3" fill="#777"/>
<line x1="158.0" y1="47.5" x2="288.8" y2="47.5" stroke="#151515" stroke-width="1.32"/>
<line x1="162.5" y1="43.0" x2="162.5" y2="84.0" stroke="#151515" stroke-width="1.2100000000000002"/>
<line x1="283.5" y1="43.0" x2="283.5" y2="84.0" stroke="#151515" stroke-width="1.2100000000000002"/>
<line x1="159.7" y1="49.8" x2="164.5" y2="45.0" stroke="#111" stroke-width="1.4300000000000002"/>
<line x1="281.3" y1="49.8" x2="286.1" y2="45.0" stroke="#111" stroke-width="1.4300000000000002"/>
<line x1="28.5" y1="116.8" x2="28.5" y2="282.5" stroke="#151515" stroke-width="1.2100000000000002"/>
<line x1="22.4" y1="122.5" x2="69.4" y2="122.5" stroke="#151515" stroke-width="1.32"/>
<line x1="22.4" y1="136.5" x2="69.7" y2="136.5" stroke="#151515" stroke-width="1.32"/>
<line x1="24.0" y1="263.5" x2="37.3" y2="263.5" stroke="#151515" stroke-width="1.32"/>
<line x1="24.0" y1="278.5" x2="69.7" y2="278.5" stroke="#151515" stroke-width="1.32"/>
<line x1="25.7" y1="119.8" x2="30.5" y2="124.6" stroke="#111" stroke-width="1.4300000000000002"/>
<line x1="25.7" y1="133.9" x2="30.5" y2="138.7" stroke="#111" stroke-width="1.4300000000000002"/>
<line x1="25.7" y1="261.3" x2="30.5" y2="266.1" stroke="#111" stroke-width="1.4300000000000002"/>
<line x1="25.7" y1="276.2" x2="30.5" y2="281.0" stroke="#111" stroke-width="1.4300000000000002"/>
<line x1="58.5" y1="238.0" x2="58.5" y2="283.4" stroke="#151515" stroke-width="1.2100000000000002"/>
<line x1="53.7" y1="242.5" x2="69.7" y2="242.5" stroke="#151515" stroke-width="1.32"/>
<line x1="56.3" y1="240.5" x2="61.1" y2="245.3" stroke="#111" stroke-width="1.4300000000000002"/>
<line x1="56.3" y1="276.2" x2="61.1" y2="281.0" stroke="#111" stroke-width="1.4300000000000002"/>
<line x1="338.5" y1="122.8" x2="338.5" y2="174.0" stroke="#151515" stroke-width="1.2100000000000002"/>
<line x1="322.5" y1="166.5" x2="345.6" y2="166.5" stroke="#151515" stroke-width="1.32"/>
<line x1="336.4" y1="127.4" x2="341.2" y2="132.2" stroke="#111" stroke-width="1.4300000000000002"/>
<line x1="336.4" y1="164.1" x2="341.2" y2="168.9" stroke="#111" stroke-width="1.4300000000000002"/>
<polygon points="159.5,404.5 174.5,404.5 174.5,418.8 203.5,418.8 205.5,421.5 194.5,435 184,436 183.5,428 179.5,425.5 170,423 159.5,420" fill="#fff"/>
<line x1="177.5" y1="416.3" x2="177.5" y2="441.6" stroke="#151515" stroke-width="1.2100000000000002"/>
<line x1="172.9" y1="422.5" x2="192.7" y2="422.5" stroke="#151515" stroke-width="1.32"/>
<line x1="175.5" y1="420.2" x2="180.3" y2="425.0" stroke="#111" stroke-width="1.4300000000000002"/>
<line x1="175.5" y1="434.6" x2="180.3" y2="439.4" stroke="#111" stroke-width="1.4300000000000002"/>
<line x1="407.5" y1="389.3" x2="407.5" y2="431.2" stroke="#151515" stroke-width="1.2100000000000002"/>
<line x1="383.1" y1="396.5" x2="414.6" y2="396.5" stroke="#151515" stroke-width="1.32"/>
<line x1="385.2" y1="424.5" x2="414.6" y2="424.5" stroke="#151515" stroke-width="1.32"/>
<line x1="405.2" y1="393.7" x2="410.0" y2="398.5" stroke="#111" stroke-width="1.4300000000000002"/>
<line x1="405.2" y1="422.0" x2="410.0" y2="426.8" stroke="#111" stroke-width="1.4300000000000002"/>
<line x1="269.2" y1="451.2" x2="186.0" y2="457.6" stroke="#111" stroke-width="1.54"/>
<polygon points="165.6,459.6 188,455.6 188.5,461.6" fill="#111"/>
<line x1="169.5" y1="481.1" x2="169.5" y2="528.6" stroke="#151515" stroke-width="1.2100000000000002"/>
<line x1="276.5" y1="481.1" x2="276.5" y2="528.6" stroke="#151515" stroke-width="1.2100000000000002"/>
<line x1="164.0" y1="524.5" x2="281.3" y2="524.5" stroke="#151515" stroke-width="1.32"/>
<line x1="167.1" y1="526.6" x2="171.9" y2="521.8" stroke="#111" stroke-width="1.4300000000000002"/>
<line x1="273.9" y1="526.6" x2="278.7" y2="521.8" stroke="#111" stroke-width="1.4300000000000002"/>
<line x1="194.5" y1="481.0" x2="194.5" y2="502.3" stroke="#151515" stroke-width="1.2100000000000002"/>
<line x1="251.5" y1="481.0" x2="251.5" y2="502.3" stroke="#151515" stroke-width="1.2100000000000002"/>
<line x1="189.3" y1="497.5" x2="256.6" y2="497.5" stroke="#151515" stroke-width="1.32"/>
<line x1="191.6" y1="499.7" x2="196.4" y2="494.9" stroke="#111" stroke-width="1.4300000000000002"/>
<line x1="249.0" y1="499.7" x2="253.8" y2="494.9" stroke="#111" stroke-width="1.4300000000000002"/>
<line x1="275.5" y1="696.3" x2="275.5" y2="724.8" stroke="#151515" stroke-width="1.2100000000000002"/>
<line x1="262.6" y1="698.5" x2="280.4" y2="698.5" stroke="#151515" stroke-width="1.32"/>
<line x1="239.3" y1="719.5" x2="280.4" y2="719.5" stroke="#151515" stroke-width="1.32"/>
<line x1="273.1" y1="696.3" x2="277.9" y2="701.1" stroke="#111" stroke-width="1.4300000000000002"/>
<line x1="273.1" y1="717.2" x2="277.9" y2="722.0" stroke="#111" stroke-width="1.4300000000000002"/>
<g fill="none" stroke="#111" stroke-width="1.5" stroke-linecap="round" stroke-linejoin="round" style="vector-effect:non-scaling-stroke"><path vector-effect="non-scaling-stroke" transform="matrix(1.3642,0,0,1.1857,212.05,32.55)" d="M1.9,1.3 C2.9,1.3 3.6,2.5 3.6,3.95 C3.6,5.4 2.9,6.6 1.9,6.6 C0.9,6.6 0.2,5.4 0.2,3.95 C0.2,2.5 0.9,1.3 1.9,1.3 Z M0,7.3 L3.8,0.5"/><path vector-effect="non-scaling-stroke" transform="matrix(1.3642,0,0,1.1857,219.42,32.55)" d="M0,1.5 L1.2,0 L1.2,7"/><path vector-effect="non-scaling-stroke" transform="matrix(1.3642,0,0,1.1857,223.24,32.55)" d="M0,0 L3.2,0 L1.1,7"/><path vector-effect="non-scaling-stroke" transform="matrix(1.3642,0,0,1.1857,229.78,32.55)" d="M1.6,0 C2.5,0 3.2,1.5 3.2,3.5 C3.2,5.5 2.5,7 1.6,7 C0.7,7 0,5.5 0,3.5 C0,1.5 0.7,0 1.6,0 Z"/></g>
<g fill="none" stroke="#111" stroke-width="1.5" stroke-linecap="round" stroke-linejoin="round" style="vector-effect:non-scaling-stroke"><path vector-effect="non-scaling-stroke" transform="matrix(1.3060,0,0,1.2571,214.15,482.35)" d="M1.9,1.3 C2.9,1.3 3.6,2.5 3.6,3.95 C3.6,5.4 2.9,6.6 1.9,6.6 C0.9,6.6 0.2,5.4 0.2,3.95 C0.2,2.5 0.9,1.3 1.9,1.3 Z M0,7.3 L3.8,0.5"/><path vector-effect="non-scaling-stroke" transform="matrix(1.3060,0,0,1.2571,221.20,482.35)" d="M1.6,3.3 C0.8,3.3 0.3,2.6 0.3,1.65 C0.3,0.7 0.8,0 1.6,0 C2.4,0 2.9,0.7 2.9,1.65 C2.9,2.6 2.4,3.3 1.6,3.3 C0.7,3.3 0,4.1 0,5.15 C0,6.2 0.7,7 1.6,7 C2.5,7 3.2,6.2 3.2,5.15 C3.2,4.1 2.5,3.3 1.6,3.3 Z"/><path vector-effect="non-scaling-stroke" transform="matrix(1.3060,0,0,1.2571,227.47,482.35)" d="M1.6,0 C2.5,0 3.2,1.5 3.2,3.5 C3.2,5.5 2.5,7 1.6,7 C0.7,7 0,5.5 0,3.5 C0,1.5 0.7,0 1.6,0 Z"/></g>
<g fill="none" stroke="#111" stroke-width="1.5" stroke-linecap="round" stroke-linejoin="round" style="vector-effect:non-scaling-stroke"><path vector-effect="non-scaling-stroke" transform="matrix(1.3765,0,0,1.2571,212.05,509.15)" d="M1.9,1.3 C2.9,1.3 3.6,2.5 3.6,3.95 C3.6,5.4 2.9,6.6 1.9,6.6 C0.9,6.6 0.2,5.4 0.2,3.95 C0.2,2.5 0.9,1.3 1.9,1.3 Z M0,7.3 L3.8,0.5"/><path vector-effect="non-scaling-stroke" transform="matrix(1.3765,0,0,1.2571,219.48,509.15)" d="M0,1.5 L1.2,0 L1.2,7"/><path vector-effect="non-scaling-stroke" transform="matrix(1.3765,0,0,1.2571,223.34,509.15)" d="M3,0 L0.5,0 L0.2,3.1 C0.6,2.7 1.1,2.5 1.6,2.5 C2.6,2.5 3.2,3.4 3.2,4.7 C3.2,6.1 2.5,7 1.5,7 C0.9,7 0.4,6.6 0,6"/><path vector-effect="non-scaling-stroke" transform="matrix(1.3765,0,0,1.2571,229.95,509.15)" d="M1.6,0 C2.5,0 3.2,1.5 3.2,3.5 C3.2,5.5 2.5,7 1.6,7 C0.7,7 0,5.5 0,3.5 C0,1.5 0.7,0 1.6,0 Z"/></g>
<g fill="none" stroke="#111" stroke-width="1.5" stroke-linecap="round" stroke-linejoin="round" style="vector-effect:non-scaling-stroke"><path vector-effect="non-scaling-stroke" transform="matrix(0,-1.3125,1.3286,0,9.05,134.15)" d="M0.1,1.5 C0.3,0.5 0.9,0 1.6,0 C2.5,0 3.1,0.7 3.1,1.7 C3.1,2.9 2.2,3.9 0,7 L3.2,7"/><path vector-effect="non-scaling-stroke" transform="matrix(0,-1.3125,1.3286,0,9.05,127.85)" d="M1.6,0 C2.5,0 3.2,1.5 3.2,3.5 C3.2,5.5 2.5,7 1.6,7 C0.7,7 0,5.5 0,3.5 C0,1.5 0.7,0 1.6,0 Z"/></g>
<g fill="none" stroke="#111" stroke-width="1.5" stroke-linecap="round" stroke-linejoin="round" style="vector-effect:non-scaling-stroke"><path vector-effect="non-scaling-stroke" transform="matrix(0,-1.2870,1.2857,0,12.05,207.15)" d="M0,1.5 L1.2,0 L1.2,7"/><path vector-effect="non-scaling-stroke" transform="matrix(0,-1.2870,1.2857,0,12.05,203.55)" d="M1.6,3.3 C0.8,3.3 0.3,2.6 0.3,1.65 C0.3,0.7 0.8,0 1.6,0 C2.4,0 2.9,0.7 2.9,1.65 C2.9,2.6 2.4,3.3 1.6,3.3 C0.7,3.3 0,4.1 0,5.15 C0,6.2 0.7,7 1.6,7 C2.5,7 3.2,6.2 3.2,5.15 C3.2,4.1 2.5,3.3 1.6,3.3 Z"/><path vector-effect="non-scaling-stroke" transform="matrix(0,-1.2870,1.2857,0,12.05,197.37)" d="M1.6,0 C2.5,0 3.2,1.5 3.2,3.5 C3.2,5.5 2.5,7 1.6,7 C0.7,7 0,5.5 0,3.5 C0,1.5 0.7,0 1.6,0 Z"/></g>
<g fill="none" stroke="#111" stroke-width="1.5" stroke-linecap="round" stroke-linejoin="round" style="vector-effect:non-scaling-stroke"><path vector-effect="non-scaling-stroke" transform="matrix(0,-1.2246,1.2571,0,9.15,284.15)" d="M0,0.9 L4.2,2.7 L0,4.5 M0,6.5 L4.2,6.5"/><path vector-effect="non-scaling-stroke" transform="matrix(0,-1.2246,1.2571,0,9.15,277.05)" d="M0.1,1.5 C0.3,0.5 0.9,0 1.6,0 C2.5,0 3.1,0.7 3.1,1.7 C3.1,2.9 2.2,3.9 0,7 L3.2,7"/><path vector-effect="non-scaling-stroke" transform="matrix(0,-1.2246,1.2571,0,9.15,271.17)" d="M1.6,0 C2.5,0 3.2,1.5 3.2,3.5 C3.2,5.5 2.5,7 1.6,7 C0.7,7 0,5.5 0,3.5 C0,1.5 0.7,0 1.6,0 Z"/></g>
<g fill="none" stroke="#111" stroke-width="1.5" stroke-linecap="round" stroke-linejoin="round" style="vector-effect:non-scaling-stroke"><path vector-effect="non-scaling-stroke" transform="matrix(0,-1.0250,1.2857,0,42.85,265.15)" d="M3,0 L0.5,0 L0.2,3.1 C0.6,2.7 1.1,2.5 1.6,2.5 C2.6,2.5 3.2,3.4 3.2,4.7 C3.2,6.1 2.5,7 1.5,7 C0.9,7 0.4,6.6 0,6"/><path vector-effect="non-scaling-stroke" transform="matrix(0,-1.0250,1.2857,0,42.85,260.23)" d="M1.6,0 C2.5,0 3.2,1.5 3.2,3.5 C3.2,5.5 2.5,7 1.6,7 C0.7,7 0,5.5 0,3.5 C0,1.5 0.7,0 1.6,0 Z"/></g>
<rect x="322.5" y="138" width="13.8" height="15.5" fill="#fff"/>
<g fill="none" stroke="#111" stroke-width="1.5" stroke-linecap="round" stroke-linejoin="round" style="vector-effect:non-scaling-stroke"><path vector-effect="non-scaling-stroke" transform="matrix(0,-1.3000,1.3143,0,324.75,150.85)" d="M3,0 L0.5,0 L0.2,3.1 C0.6,2.7 1.1,2.5 1.6,2.5 C2.6,2.5 3.2,3.4 3.2,4.7 C3.2,6.1 2.5,7 1.5,7 C0.9,7 0.4,6.6 0,6"/><path vector-effect="non-scaling-stroke" transform="matrix(0,-1.3000,1.3143,0,324.75,144.61)" d="M3,0 L0.5,0 L0.2,3.1 C0.6,2.7 1.1,2.5 1.6,2.5 C2.6,2.5 3.2,3.4 3.2,4.7 C3.2,6.1 2.5,7 1.5,7 C0.9,7 0.4,6.6 0,6"/></g>
<g fill="none" stroke="#111" stroke-width="1.5" stroke-linecap="round" stroke-linejoin="round" style="vector-effect:non-scaling-stroke"><path vector-effect="non-scaling-stroke" transform="matrix(0,-1.1750,1.2286,0,162.35,416.75)" d="M0.1,1.5 C0.3,0.5 0.9,0 1.6,0 C2.5,0 3.1,0.7 3.1,1.7 C3.1,2.9 2.2,3.9 0,7 L3.2,7"/><path vector-effect="non-scaling-stroke" transform="matrix(0,-1.1750,1.2286,0,162.35,411.11)" d="M1.6,0 C2.5,0 3.2,1.5 3.2,3.5 C3.2,5.5 2.5,7 1.6,7 C0.7,7 0,5.5 0,3.5 C0,1.5 0.7,0 1.6,0 Z"/></g>
<g fill="none" stroke="#111" stroke-width="1.5" stroke-linecap="round" stroke-linejoin="round" style="vector-effect:non-scaling-stroke"><path vector-effect="non-scaling-stroke" transform="matrix(0,-1.3913,1.1143,0,418.65,421.15)" d="M0,0.9 L4.2,2.7 L0,4.5 M0,6.5 L4.2,6.5"/><path vector-effect="non-scaling-stroke" transform="matrix(0,-1.3913,1.1143,0,418.65,413.08)" d="M2.4,7 L2.4,0 L0,4.9 L3.2,4.9"/><path vector-effect="non-scaling-stroke" transform="matrix(0,-1.3913,1.1143,0,418.65,406.40)" d="M1.6,0 C2.5,0 3.2,1.5 3.2,3.5 C3.2,5.5 2.5,7 1.6,7 C0.7,7 0,5.5 0,3.5 C0,1.5 0.7,0 1.6,0 Z"/></g>
<g fill="none" stroke="#111" stroke-width="1.5" stroke-linecap="round" stroke-linejoin="round" style="vector-effect:non-scaling-stroke"><path vector-effect="non-scaling-stroke" transform="matrix(0,-1.1500,1.1714,0,259.25,713.25)" d="M0.1,0.9 C0.5,0.3 1,0 1.6,0 C2.5,0 3.1,0.7 3.1,1.7 C3.1,2.7 2.4,3.4 1.4,3.4 C2.6,3.4 3.2,4.2 3.2,5.2 C3.2,6.3 2.5,7 1.6,7 C0.9,7 0.4,6.6 0,5.9"/><path vector-effect="non-scaling-stroke" transform="matrix(0,-1.1500,1.1714,0,259.25,707.73)" d="M1.6,0 C2.5,0 3.2,1.5 3.2,3.5 C3.2,5.5 2.5,7 1.6,7 C0.7,7 0,5.5 0,3.5 C0,1.5 0.7,0 1.6,0 Z"/></g>
<text x="202.3" y="21.7" font-size="13.6" font-family="Liberation Sans, sans-serif" font-weight="bold" text-anchor="start" fill="#111" textLength="37.6" lengthAdjust="spacingAndGlyphs">ΤΟΜΗ</text>
<text x="158" y="602.4" font-size="13.4" font-family="Liberation Sans, sans-serif" font-weight="bold" text-anchor="start" fill="#111" textLength="135" lengthAdjust="spacingAndGlyphs">ΕΝΑΛΛΑΚΤΙΚΗ ΛΥΣΗ</text>
<text x="469.8" y="110.9" font-size="13.5" font-family="Liberation Sans, sans-serif" font-weight="bold" text-anchor="start" fill="#111" textLength="90.8" lengthAdjust="spacingAndGlyphs">ΟΡΘΟΣΤΑΤΗΣ</text>
<text x="436.2" y="138.6" font-size="12.1" font-family="Liberation Sans, sans-serif" font-weight="bold" text-anchor="start" fill="#111" textLength="164.9" lengthAdjust="spacingAndGlyphs">ΜΗ ΣΥΡΡΙΚΝΟΥΜΕΝΗ ΚΟΝΙΑ</text>
<text x="436.2" y="151.7" font-size="12.1" font-family="Liberation Sans, sans-serif" font-weight="bold" text-anchor="start" fill="#111" textLength="141.0" lengthAdjust="spacingAndGlyphs">ΑΝΘΕΚΤΙΚΗ ΣΕ ΠΑΓΕΤΟ</text>
<text x="436.2" y="164.8" font-size="12.1" font-family="Liberation Sans, sans-serif" font-weight="bold" text-anchor="start" fill="#111" textLength="64.5" lengthAdjust="spacingAndGlyphs">ΚΑΙ ΑΛΑΤΑ</text>
<text x="436.2" y="191.6" font-size="12.1" font-family="Liberation Sans, sans-serif" font-weight="bold" text-anchor="start" fill="#111" textLength="135.1" lengthAdjust="spacingAndGlyphs">ΤΣΙΜΕΝΤΟΚΟΝΙΑ ΚΑΤΑ</text>
<text x="436.2" y="204.7" font-size="12.1" font-family="Liberation Sans, sans-serif" font-weight="bold" text-anchor="start" fill="#111" textLength="48.8" lengthAdjust="spacingAndGlyphs">DIN 1045</text>
<text x="436.2" y="231.3" font-size="12.1" font-family="Liberation Sans, sans-serif" font-weight="bold" text-anchor="start" fill="#111" textLength="150.9" lengthAdjust="spacingAndGlyphs">ΣΤΡΩΣΗ ΑΠΟΣΤΡΑΓΓΙΣΗΣ</text>
<text x="436.2" y="244.4" font-size="12.1" font-family="Liberation Sans, sans-serif" font-weight="bold" text-anchor="start" fill="#111" textLength="107.1" lengthAdjust="spacingAndGlyphs">ΑΠΟ ΑΔΡΑΝΗ 8/16</text>
<text x="436.2" y="271.2" font-size="12.1" font-family="Liberation Sans, sans-serif" font-weight="bold" text-anchor="start" fill="#111" textLength="127.7" lengthAdjust="spacingAndGlyphs">ΣΠΕΙΡΑ Φ10, Bst 500S</text>
<text x="436.2" y="284.3" font-size="12.1" font-family="Liberation Sans, sans-serif" font-weight="bold" text-anchor="start" fill="#111" textLength="116.4" lengthAdjust="spacingAndGlyphs">D=250, s=50, H=225</text>
<text x="436.2" y="310.5" font-size="12.1" font-family="Liberation Sans, sans-serif" font-weight="bold" text-anchor="start" fill="#111" textLength="152.8" lengthAdjust="spacingAndGlyphs">ΣΩΛΗΝΑΣ ΑΠΟΡΡΟΗΣ Φ18</text>


</svg>
</body></html>
